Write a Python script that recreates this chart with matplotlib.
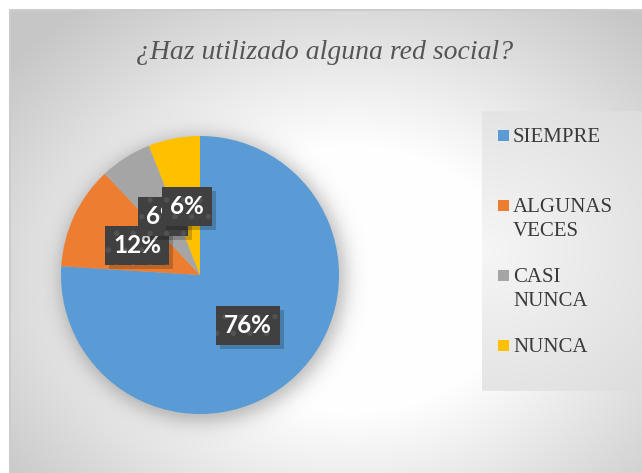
import numpy as np
import matplotlib.pyplot as plt
from matplotlib.patches import Rectangle
from matplotlib import transforms

categorias = ['SIEMPRE', 'ALGUNAS\nVECES', 'CASI\nNUNCA', 'NUNCA']
porcentajes = [76, 12, 6, 6]
colores = ['#5B9BD5', '#ED7D31', '#A5A5A5', '#FFC000']
titulo = '¿Haz utilizado alguna red social?'

W, H = 642, 473
fig = plt.figure(figsize=(W / 100, H / 100), dpi=100)

# fondo: degradado radial del area del grafico + sombra del pastel + caja de leyenda
bg = fig.add_axes([0, 0, 1, 1])
yy, xx = np.mgrid[0:H, 0:W] + 0.5
d = np.hypot((xx - 350) / 330, (yy - 280) / 260)
val = np.clip(1 - 0.27 * np.clip(d - 0.5, 0, None), 0.78, 1)

cx, cy, r = 200, 275, 139
dp = np.hypot(xx - cx - 3, yy - cy - 4)
val = val * (1 - 0.28 / (1 + np.exp((dp - r - 3) / 6)))

leg = (xx >= 482) & (yy >= 112) & (yy <= 391)
dl = np.hypot((xx - 482) / 160, (yy - 251) / 140)
val = np.where(leg, 0.965 - 0.07 * dl, val)

val[:10, :] = 1
val[:, :9] = 1
val[10:12, 9:] = 0.8
val[10:, 9:11] = 0.8
bg.imshow(np.dstack([val] * 3), extent=(0, W, H, 0), interpolation='bilinear', aspect='auto')
bg.set_xlim(0, W)
bg.set_ylim(H, 0)
bg.axis('off')

bg.text(325, 59, titulo, ha='center', va='baseline', fontsize=20, style='italic',
        family='Liberation Serif', color='#555555')

# leyenda
for i, (lab, col) in enumerate(zip(categorias, colores)):
    yb = 142 + 70 * i
    bg.add_patch(Rectangle((498, yb - 12), 11, 11, color=col, lw=0))
    for j, linea in enumerate(lab.split('\n')):
        bg.text(513, yb + 24 * j, linea, va='baseline', fontsize=15,
                family='Liberation Serif', color='#3a3a3a')

# pastel
ax = fig.add_axes([(cx - r) / W, (H - cy - r) / H, 2 * r / W, 2 * r / H])
wedges, texts, autotexts = ax.pie(porcentajes, colors=colores, startangle=90, counterclock=False,
                                  autopct='%.0f%%', pctdistance=0.5, wedgeprops=dict(linewidth=0))
ax.set_xlim(-1, 1)
ax.set_ylim(-1, 1)
ax.axis('off')

plt.rcParams['hatch.linewidth'] = 1.5
sombra_tr = transforms.offset_copy(ax.transData, fig, x=4, y=-4, units='dots')
for k, t in enumerate(autotexts):
    t.set(color='white', fontweight='bold', family='Lato', fontsize=17.5, zorder=10 + 2 * k)
    t.set_bbox(dict(boxstyle='square,pad=0.33', facecolor='#404040', edgecolor='#525252',
                    linewidth=0, hatch='.'))
    x, y = t.get_position()
    s = ax.text(x, y, t.get_text(), transform=sombra_tr, ha='center', va='center',
                fontweight='bold', family='Lato', fontsize=17.5, color='none', zorder=9 + 2 * k)
    s.set_bbox(dict(boxstyle='square,pad=0.33', facecolor='black', alpha=0.2, linewidth=0))

fig.savefig('out.png', dpi=100)
